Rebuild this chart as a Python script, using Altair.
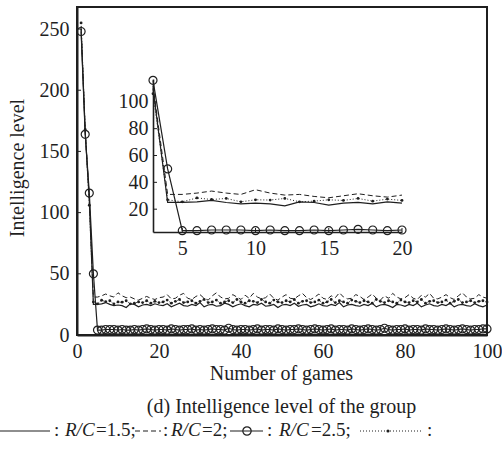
import altair as alt
import pandas as pd

# ---------------- data ----------------
games = list(range(1, 101))

rc15 = [250, 166, 110, 25, 25, 25.5, 26.5, 25, 24, 24.5,
        24, 22.5, 25.5, 25, 23, 24.5, 25, 24, 25.5, 24.5,
        24, 25.5, 23, 24.5, 26, 24, 23.5, 25, 24, 26.5,
        23, 24.5, 25, 23.5, 24, 26, 25, 23, 24.5, 25.5,
        24, 23, 25, 24.5, 26, 23.5, 24, 25, 22.5, 24.5,
        25, 24, 26, 23.5, 24.5, 25, 23, 24, 25.5, 24,
        23.5, 25, 24, 26.5, 23, 24.5, 25, 24, 23.5, 25,
        24, 26, 23, 24.5, 25, 24, 22.5, 25, 24.5, 23.5,
        25, 24, 26, 23, 24.5, 25.5, 24, 23.5, 25, 24,
        26, 23, 24.5, 25, 24, 23.5, 25.5, 24, 23, 24.5]

rc2 = [252, 167, 112, 31, 31, 32, 33.5, 32, 31, 34.5,
       32, 30.5, 31, 29.5, 28.5, 30, 31.5, 30, 29, 30.5,
       31, 33, 29.5, 30, 32.5, 34, 30, 29, 31.5, 33,
       30, 28.5, 32, 34.5, 31, 29.5, 30, 33, 31, 29,
       32.5, 30, 34, 31, 29.5, 30.5, 33.5, 30, 28.5, 31,
       33, 30, 29.5, 32, 34, 30.5, 29, 31, 33.5, 30,
       29, 32, 30.5, 34.5, 31, 29.5, 30, 33, 31.5, 29,
       31, 33.5, 30, 28.5, 32, 30, 34, 31, 29.5, 30.5,
       33, 30, 29, 32.5, 31, 34, 30, 29.5, 31, 33,
       30.5, 29, 32, 34.5, 31, 29.5, 30, 33, 31, 30]

rc25 = [248, 164, 116, 50, 4, 4, 4.5, 4.5, 4.5, 4,
        4.5, 4, 4, 4.5, 4, 4.5, 5, 4.5, 4, 4.5,
        4.5, 4, 5, 4.5, 4, 4.5, 4.5, 5, 4, 4.5,
        4, 4.5, 5, 4.5, 4.5, 4, 5.5, 4.5, 4, 4.5,
        4.5, 4, 4.5, 5, 4, 4.5, 4.5, 4, 5, 4.5,
        4, 4.5, 4.5, 5, 4.5, 4, 4.5, 5, 4.5, 4,
        4.5, 5, 4, 4.5, 4.5, 4, 5, 4.5, 4, 4.5,
        5, 4.5, 4, 4.5, 5.5, 4.5, 4, 4.5, 4.5, 5,
        4, 4.5, 4.5, 4, 5, 4.5, 4.5, 4, 4.5, 5,
        4.5, 4, 4.5, 5, 4.5, 4, 4.5, 4.5, 5, 5]

rc_dot = [255, 168, 106, 27, 25.5, 28.4, 27.2, 28, 25.5, 27,
          26.8, 28, 25.5, 26, 27, 26.5, 28, 26, 27.5, 26.5,
          27, 28.5, 26, 27.5, 29, 26.5, 27, 28, 26, 27.5,
          29, 26.5, 27, 28.5, 26, 27, 28, 26.5, 29, 27,
          26, 28, 27.5, 26.5, 29, 27, 26, 28.5, 27, 26.5,
          28, 27, 29, 26, 27.5, 28, 26.5, 27, 28.5, 26,
          27, 29, 26.5, 28, 27, 26, 28.5, 27.5, 26.5, 28,
          27, 26, 29, 27.5, 26.5, 28, 27, 26, 28.5, 27,
          26.5, 28, 27, 29, 26, 27.5, 28, 26.5, 27, 28.5,
          26, 27.5, 29, 26.5, 27, 28, 26.5, 27.5, 28, 27]

main_x_ticks = [0, 20, 40, 60, 80, 100]
main_y_ticks = [0, 50, 100, 150, 200, 250]
inset_x_ticks = [5, 10, 15, 20]
inset_y_ticks = [20, 40, 60, 80, 100]

x_title = "Number of games"
y_title = "Intelligence level"
caption = "(d) Intelligence level of the group"

legend_plain = [": ", "=1.5;", ": ", "=2;", ": ", "=2.5;", ":"]
legend_italic = ["R/C", "R/C", "R/C"]

for s in (rc15, rc2, rc25, rc_dot):
    assert len(s) == 100

# ---------------- styling ----------------
INK = "#1f1f1f"
FONT = "Liberation Serif"
W, H = 410, 328
PL, PT = 77, 7
IN_X0, IN_X1, IN_Y0, IN_Y1 = 76, 325, 225, 72   # inset pixel box (plot coords)


def frame(vals):
    return pd.DataFrame({"game": games, "value": vals})


d15, d2, d25, ddot = frame(rc15), frame(rc2), frame(rc25), frame(rc_dot)

axis_common = dict(grid=False, ticks=False, title=None, domainColor=INK, labelFlush=False,
                   labelColor=INK, labelFont=FONT, labelFontSize=20, format="d")

x_main = alt.X("game:Q", scale=alt.Scale(domain=[0, 100], nice=False, zero=False),
               axis=alt.Axis(values=main_x_ticks, labelPadding=6, domainWidth=2,
                             orient="bottom", **axis_common))
y_main = alt.Y("value:Q", scale=alt.Scale(domain=[0, 268], nice=False),
               axis=alt.Axis(values=main_y_ticks, labelPadding=8, domainWidth=2,
                             orient="left", **axis_common))

x_in = alt.X("game:Q", scale=alt.Scale(domain=[3, 20], range=[IN_X0, IN_X1], nice=False, zero=False),
             axis=alt.Axis(values=inset_x_ticks, labelPadding=6, domainWidth=1.6,
                           orient="bottom", offset=-(H - IN_Y0), **axis_common))
y_in = alt.Y("value:Q", scale=alt.Scale(domain=[3, 117], range=[IN_Y0, IN_Y1], nice=False, zero=False),
             axis=alt.Axis(values=inset_y_ticks, labelPadding=5, domainWidth=1.6,
                           orient="left", offset=-IN_X0, **axis_common))


def series_layers(x, y, flt=None):
    def ch(df):
        c = alt.Chart(df)
        if flt:
            c = c.transform_filter(flt)
        return c
    return [
        ch(d15).mark_line(color=INK, strokeWidth=1.2).encode(x, y),
        ch(d2).mark_line(color=INK, strokeWidth=1.0, strokeDash=[5, 3]).encode(x, y),
        ch(ddot).mark_line(color=INK, strokeWidth=1.0, strokeDash=[1, 2]).encode(x, y),
        ch(ddot).mark_circle(color=INK, size=8, opacity=1).encode(x, y),
        ch(d25).mark_line(color=INK, strokeWidth=1.2).encode(x, y),
        ch(d25).mark_point(shape="circle", filled=False, color=INK, size=64,
                           strokeWidth=1.2, opacity=1).encode(x, y),
    ]


def tick_layers(x, y, xt, yt, x0, y0):
    # short inward tick marks drawn through the same scales/axes
    return [
        alt.Chart(pd.DataFrame({"game": xt})).mark_rule(color=INK, strokeWidth=1).encode(
            x=x, y=alt.value(y0), y2=alt.value(y0 - 4)),
        alt.Chart(pd.DataFrame({"value": yt})).mark_rule(color=INK, strokeWidth=1).encode(
            y=y, x=alt.value(x0), x2=alt.value(x0 + 4)),
    ]


main = alt.layer(*series_layers(x_main, y_main),
                 *tick_layers(x_main, y_main, main_x_ticks, main_y_ticks, 0, H))
inset = alt.layer(*series_layers(x_in, y_in, "datum.game >= 3 && datum.game <= 20"),
                  *tick_layers(x_in, y_in, inset_x_ticks, inset_y_ticks, IN_X0, IN_Y0))

# ---------------- annotation text & legend (pixel placement) ----------------
px = lambda f: alt.X(f"{f}:Q", scale=None, axis=None)
py = lambda f: alt.Y(f"{f}:Q", scale=None, axis=None)

plain_df = pd.DataFrame({"t": legend_plain,
                         "px": [54, 96, 163, 202, 267, 311, 427],
                         "py": [436] * 7})
plain_df["px"] -= PL
plain_df["py"] -= PT
ital_df = pd.DataFrame({"t": legend_italic, "px": [65, 171, 279], "py": [436] * 3})
ital_df["px"] -= PL
ital_df["py"] -= PT

leg_plain = alt.Chart(plain_df).mark_text(font=FONT, fontSize=19, color=INK, align="left",
                                          baseline="alphabetic").encode(px("px"), py("py"), text="t:N")
leg_ital = alt.Chart(ital_df).mark_text(font=FONT, fontSize=19, color=INK, align="left",
                                        baseline="alphabetic", fontStyle="italic").encode(
    px("px"), py("py"), text="t:N")

titles_df = pd.DataFrame({"t": [x_title, caption], "px": [281.5 - PL, 281.5 - PL],
                          "py": [380 - PT, 413 - PT]})
titles = alt.Chart(titles_df).mark_text(font=FONT, fontSize=20, color=INK, align="center",
                                        baseline="alphabetic").encode(px("px"), py("py"), text="t:N")
ytitle_df = pd.DataFrame({"t": [y_title], "px": [24 - PL], "py": [168 - PT]})
ytitle = alt.Chart(ytitle_df).mark_text(font=FONT, fontSize=20, color=INK, align="center",
                                        baseline="alphabetic", angle=270).encode(
    px("px"), py("py"), text="t:N")

ly = 431 - PT
seg = pd.DataFrame({"a": [0 - PL], "b": [50 - PL], "y": [ly]})
seg_d = pd.DataFrame({"a": [135 - PL], "b": [161 - PL], "y": [ly]})
seg_c = pd.DataFrame({"a": [230 - PL], "b": [263 - PL], "y": [ly]})
seg_o = pd.DataFrame({"a": [360 - PL], "b": [422 - PL], "y": [ly]})
pt_c = pd.DataFrame({"a": [247 - PL], "y": [ly]})
pt_o = pd.DataFrame({"a": [388 - PL], "y": [ly]})

rule_enc = dict(x=px("a"), x2="b:Q", y=py("y"))
leg_marks = [
    alt.Chart(seg).mark_rule(color=INK, strokeWidth=1.2).encode(**rule_enc),
    alt.Chart(seg_d).mark_rule(color=INK, strokeWidth=1.2, strokeDash=[5, 3]).encode(**rule_enc),
    alt.Chart(seg_c).mark_rule(color=INK, strokeWidth=1.2).encode(**rule_enc),
    alt.Chart(seg_o).mark_rule(color=INK, strokeWidth=1.0, strokeDash=[1, 2]).encode(**rule_enc),
    alt.Chart(pt_c).mark_point(shape="circle", filled=False, color=INK, size=70, strokeWidth=1.2,
                               opacity=1).encode(x=px("a"), y=py("y")),
    alt.Chart(pt_o).mark_circle(color=INK, size=10, opacity=1).encode(x=px("a"), y=py("y")),
]

chart = alt.layer(main, inset, titles, ytitle, leg_plain, leg_ital, *leg_marks).resolve_scale(
    x="independent", y="independent"
).properties(
    width=W, height=H,
    padding={"left": PL, "top": PT, "right": 502 - PL - W, "bottom": 453 - PT - H},
    autosize=alt.AutoSizeParams(type="none"),
    background="white",
).configure(font=FONT).configure_axis(
    labelFont=FONT, titleFont=FONT, labelFontSize=20
).configure_text(font=FONT).configure_view(stroke=INK, strokeWidth=2)

chart.save("out.html", embed_options={"renderer": "svg", "actions": False})
